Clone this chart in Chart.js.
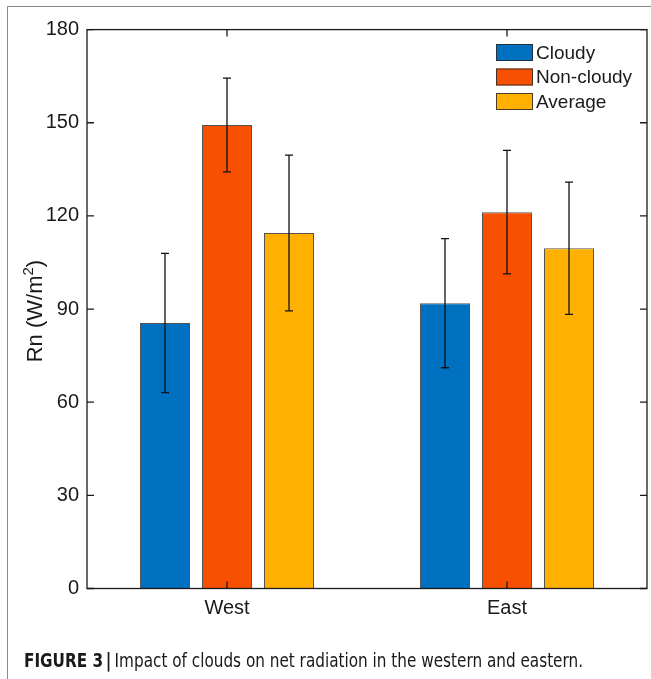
<!DOCTYPE html>
<html>
<head>
<meta charset="utf-8">
<script src="https://cdn.jsdelivr.net/npm/chart.js@4.4.1/dist/chart.umd.min.js"></script>
<style>
  html, body { margin: 0; padding: 0; background: #fff; }
  #wrap { position: relative; width: 651px; height: 679px; overflow: hidden; }
  #frame { position: absolute; left: 7px; top: 6px; width: 700px; height: 700px;
           border-top: 1.5px solid #8c8c8c; border-left: 1.5px solid #8c8c8c; }
  #c { position: absolute; left: 0; top: 0; }
  #cap { position: absolute; left: 24px; top: 650px; white-space: nowrap; transform-origin: 0 0;
         font-family: "Liberation Sans Narrow", "DejaVu Sans Condensed", "Liberation Sans", sans-serif;
         font-size: 20px; line-height: 1; color: #1a1a1a; }
  #cap b { font-weight: bold; }
</style>
</head>
<body>
<div id="wrap">
  <div id="frame"></div>
  <canvas id="c" width="651" height="679"></canvas>
  <div id="cap"><b>FIGURE 3</b><b style="margin:0 4px 0 3px">|</b>Impact of clouds on net radiation in the western and eastern.</div>
</div>
<script>
/* data */
const REGIONS       = ['West', 'East'];
const CLOUDY        = [85.5, 91.9];
const CLOUDY_ERR    = [22.4, 20.8];
const NONCLOUDY     = [149.3, 121.2];
const NONCLOUDY_ERR = [15.1, 19.9];
const AVERAGE       = [114.5, 109.6];
const AVERAGE_ERR   = [25.1, 21.3];
const Y_MIN = 0, Y_MAX = 180, Y_STEP = 30;

const COLORS = { cloudy: '#0070C0', non: '#F65000', avg: '#FFB000' };
const FONT = '"Liberation Sans", Arial, sans-serif';
const INK = '#1a1a1a';

/* ── box + inward ticks (MATLAB style) ─────────────────────────────── */
const boxPlugin = {
  id: 'box',
  afterDatasetsDraw(chart) {
    const { ctx, chartArea: a, scales: { x, y } } = chart;
    ctx.save();
    ctx.strokeStyle = INK;
    ctx.lineWidth = 1.3;
    ctx.strokeRect(a.left, a.top, a.right - a.left, a.bottom - a.top);
    const tl = 7;
    ctx.beginPath();
    y.ticks.forEach(t => {
      const py = y.getPixelForValue(t.value);
      ctx.moveTo(a.left, py);  ctx.lineTo(a.left + tl, py);
      ctx.moveTo(a.right, py); ctx.lineTo(a.right - tl, py);
    });
    x.ticks.forEach((t, i) => {
      const px = x.getPixelForTick(i);
      ctx.moveTo(px, a.bottom); ctx.lineTo(px, a.bottom - tl);
      ctx.moveTo(px, a.top);    ctx.lineTo(px, a.top + tl);
    });
    ctx.stroke();
    ctx.restore();
  }
};

/* ── error bars ────────────────────────────────────────────────────── */
const errPlugin = {
  id: 'errbars',
  afterDatasetsDraw(chart) {
    const { ctx, scales: { y } } = chart;
    ctx.save();
    ctx.strokeStyle = '#111';
    ctx.lineWidth = 1.3;
    chart.data.datasets.forEach((ds, di) => {
      const meta = chart.getDatasetMeta(di);
      meta.data.forEach((bar, i) => {
        const v = ds.data[i], e = ds.err[i];
        const top = y.getPixelForValue(v + e), bot = y.getPixelForValue(v - e);
        const cw = 4;
        ctx.beginPath();
        ctx.moveTo(bar.x, top); ctx.lineTo(bar.x, bot);
        ctx.moveTo(bar.x - cw, top); ctx.lineTo(bar.x + cw, top);
        ctx.moveTo(bar.x - cw, bot); ctx.lineTo(bar.x + cw, bot);
        ctx.stroke();
      });
    });
    ctx.restore();
  }
};

/* ── y label with a real superscript ───────────────────────────────── */
const yLabelPlugin = {
  id: 'ylabel',
  afterDraw(chart) {
    const { ctx, chartArea: a } = chart;
    const parts = [
      { t: 'Rn (W/m', size: 22, dy: 0 },
      { t: '2',       size: 15, dy: -9 },
      { t: ')',       size: 22, dy: 0 },
    ];
    ctx.save();
    let total = 0;
    parts.forEach(p => { ctx.font = p.size + 'px ' + FONT; p.w = ctx.measureText(p.t).width; total += p.w; });
    ctx.translate(42, (a.top + a.bottom) / 2 + 2);
    ctx.rotate(-Math.PI / 2);
    ctx.fillStyle = INK;
    ctx.textBaseline = 'alphabetic';
    let cx = -total / 2;
    parts.forEach(p => {
      ctx.font = p.size + 'px ' + FONT;
      ctx.fillText(p.t, cx, p.dy);
      cx += p.w;
    });
    ctx.restore();
  }
};

/* ── legend (boxoff, top right inside axes) ────────────────────────── */
const legendPlugin = {
  id: 'mlegend',
  afterDraw(chart) {
    const { ctx } = chart;
    ctx.save();
    ctx.font = '19px ' + FONT;
    ctx.textBaseline = 'middle';
    ctx.textAlign = 'left';
    chart.data.datasets.forEach((ds, i) => {
      const sx = 496, sy = 44 + i * 24.5, sw = 37, sh = 17;
      ctx.fillStyle = ds.backgroundColor;
      ctx.fillRect(sx, sy, sw, sh);
      ctx.strokeStyle = 'rgba(40,40,40,0.85)';
      ctx.lineWidth = 1;
      ctx.strokeRect(sx + 0.5, sy + 0.5, sw - 1, sh - 1);
      ctx.fillStyle = INK;
      ctx.fillText(ds.label, sx + sw + 3, sy + sh / 2 + 1);
    });
    ctx.restore();
  }
};

const barStyle = { borderColor: 'rgba(40,40,40,0.8)', borderWidth: 1,
                   categoryPercentage: 186 / 280, barPercentage: 50 / 62 };

new Chart(document.getElementById('c'), {
  type: 'bar',
  data: {
    labels: REGIONS,
    datasets: [
      { label: 'Cloudy',     data: CLOUDY,    err: CLOUDY_ERR,    backgroundColor: COLORS.cloudy, ...barStyle },
      { label: 'Non-cloudy', data: NONCLOUDY, err: NONCLOUDY_ERR, backgroundColor: COLORS.non,    ...barStyle },
      { label: 'Average',    data: AVERAGE,   err: AVERAGE_ERR,   backgroundColor: COLORS.avg,    ...barStyle },
    ]
  },
  options: {
    responsive: false,
    animation: false,
    layout: { padding: { top: 29.6, right: 4, left: 0, bottom: 0 } },
    plugins: { legend: { display: false }, tooltip: { enabled: false } },
    scales: {
      x: {
        grid: { display: false, drawTicks: false },
        border: { display: false },
        ticks: { color: INK, font: { family: FONT, size: 20 }, padding: 8 },
        afterFit: s => { s.height = 90.5; }
      },
      y: {
        min: Y_MIN, max: Y_MAX,
        grid: { display: false, drawTicks: false },
        border: { display: false },
        ticks: { stepSize: Y_STEP, color: INK, font: { family: FONT, size: 20 }, padding: 8 },
        afterFit: s => { s.width = 87; }
      }
    }
  },
  plugins: [boxPlugin, errPlugin, yLabelPlugin, legendPlugin]
});

/* stretch caption to the printed width */
const cap = document.getElementById('cap');
const w = cap.getBoundingClientRect().width;
cap.style.transform = 'scaleX(' + (559 / w) + ')';
</script>
</body>
</html>
